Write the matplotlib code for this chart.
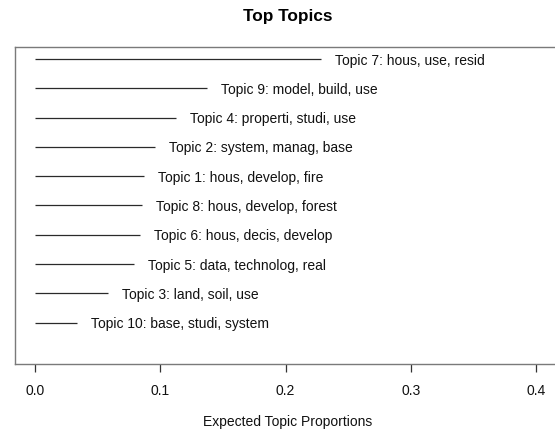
import matplotlib
matplotlib.use("Agg")
import matplotlib.pyplot as plt

plt.rcParams['font.family'] = ['Liberation Sans', 'DejaVu Sans']

# expected proportions, top to bottom
topics = ["Topic 7: hous, use, resid", "Topic 9: model, build, use",
          "Topic 4: properti, studi, use", "Topic 2: system, manag, base",
          "Topic 1: hous, develop, fire", "Topic 8: hous, develop, forest",
          "Topic 6: hous, decis, develop", "Topic 5: data, technolog, real",
          "Topic 3: land, soil, use", "Topic 10: base, studi, system"]
proportions = [0.2285, 0.1370, 0.1125, 0.0955, 0.0870,
               0.0857, 0.0837, 0.0794, 0.0582, 0.0336]
xticks = [0.0, 0.1, 0.2, 0.3, 0.4]

W, H = 555, 434
fig = plt.figure(figsize=(W / 100, H / 100), dpi=100)
ax = fig.add_axes([14.7 / W, 1 - 363.7 / H, (561 - 14.7) / W, (363.7 - 46.7) / H])

n = len(topics)
for i, (lab, p) in enumerate(zip(topics, proportions)):
    y = n - i
    ax.plot([0, p], [y, y], color="#2a2a2a", lw=0.9, solid_capstyle="butt")
    ax.annotate(lab, (p, y), xytext=(10, 0), textcoords="offset points",
                ha="left", va="center_baseline", fontsize=10, color="#111111")

ax.set_xlim(-0.0162, 0.4198)
ax.set_ylim(-0.40, 10.42)
ax.set_yticks([])
ax.set_xticks(xticks)
ax.set_xticklabels([f"{t:.1f}" for t in xticks])
ax.tick_params(axis="x", direction="out", length=5.8, width=0.9, color="#333333",
               pad=9, labelsize=10, labelcolor="#111111")
for s in ax.spines.values():
    s.set_color("#7a7a7a")
    s.set_linewidth(1.0)

fig.text(288 / W, 1 - 16 / H, "Top Topics", ha="center", va="center",
         fontsize=12.4, fontweight="bold")
fig.text(288 / W, 1 - 422 / H, "Expected Topic Proportions", ha="center",
         va="center", fontsize=10, color="#111111")

fig.savefig("out.png", dpi=100)
